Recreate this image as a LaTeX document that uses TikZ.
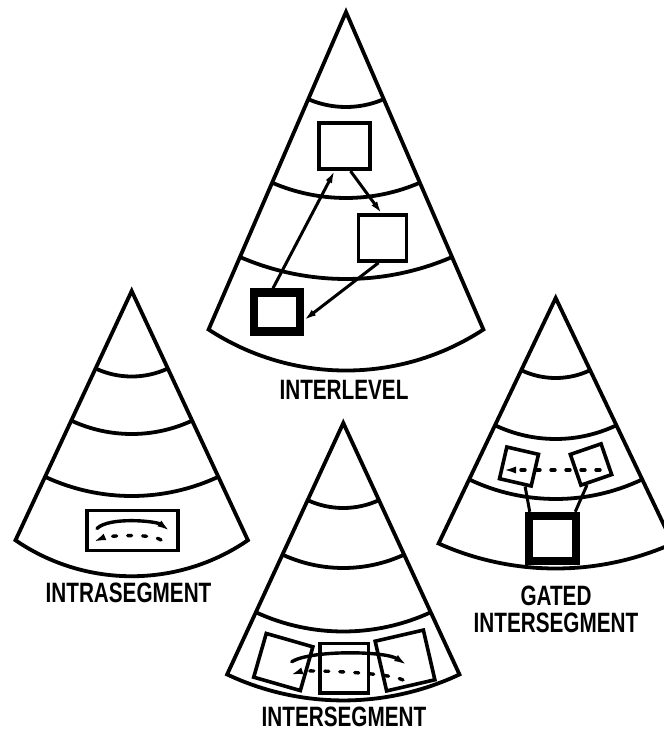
\documentclass[tikz,border=0pt]{standalone}
\usepackage{fontspec}
\newfontfamily\lblfont[FakeStretch=0.74]{Liberation Sans}
\usetikzlibrary{arrows.meta}

\tikzset{
  rim/.style={line width=3.8pt},
  seg/.style 2 args={draw, fill=white, line width=3.6pt, inner sep=0pt, minimum width=#1, minimum height=#2},
  gate/.style 2 args={seg={#1}{#2}, line width=8.5pt},
  link/.style={line width=3pt, -{Latex[length=12pt,width=7pt]}},
  msg/.style={line width=3.4pt, line cap=round, -{Latex[length=13pt,width=7pt]}},
  reply/.style={msg, dash pattern=on 4pt off 11pt},
  wire/.style={line width=3pt},
  lbl/.style={font=\lblfont\bfseries\fontsize{28}{27}\selectfont, inner sep=0pt},
  pics/cone/.style n args={4}{code={
    \pgfmathsetmacro\conew{#2*sin(#1)}
    \pgfmathsetmacro\conerb{\conew*(\conew/(2*#3))+#3/2}
    \pgfmathsetmacro\conea{asin(\conew/\conerb)}
    \draw[rim] (0,0) -- (90+#1:#2) arc[start angle=90+\conea, end angle=90-\conea, radius=\conerb] -- cycle;
    \foreach \rad in {#4}
      \draw[rim] (90+#1:\rad) arc[start angle=90+#1, end angle=90-#1, radius=\rad];
  }}
}

\begin{document}
\begin{tikzpicture}[x=1pt, y=-1pt]
  \useasboundingbox (0,0) rectangle (664,734);
  \clip (0,0) rectangle (664,734);

  \pic at (346,12) {cone={23.4}{346}{41}{95,186,267}};
  \pic at (131.7,291) {cone={25}{275}{36}{85.5,143,205}};
  \pic at (555.7,298) {cone={25.5}{272}{25}{80,141,201}};
  \pic at (343.3,423) {cone={24.8}{277}{26}{85,145,208.5}};

  \node[seg={51.5}{46.5}] (upper) at (344.5,146) {};
  \node[seg={48}{46}] (middle) at (382.5,238) {};
  \node[gate={46}{39}] (lower) at (277,312) {};
  \draw[link] ([xshift=-4pt]lower.north) -- ([xshift=-10pt]upper.south);
  \draw[link] ([xshift=6pt]upper.south) -- ([xshift=-1pt]middle.north);
  \draw[link] ([xshift=-4pt]middle.south) -- ([yshift=-8pt]lower.east);
  \node[lbl] (interlevel) at (344,389.5) {INTERLEVEL};

  \node[seg={91}{40}] (intra) at (132.5,530.5) {};
  \coordinate (i1) at (97,528.5);
  \coordinate (i2) at (170,531);
  \coordinate (i3) at (161,540);
  \coordinate (i4) at (93,542);
  \draw[msg] (i1) .. controls +(12,-12) and +(-14,-10) .. (i2);
  \draw[reply] (i3) .. controls +(-10,-7) and +(14,-6) .. (i4);
  \node[lbl] (intrasegment) at (128.5,593) {INTRASEGMENT};

  \node[seg={32.5}{32.5}, rotate=-13] (gl) at (519,466.5) {};
  \node[seg={32.5}{32.5}, rotate=19] (gr) at (591,464.5) {};
  \node[gate={47}{45}] (gt) at (552.5,538.5) {};
  \coordinate (g1) at (600,470);
  \coordinate (g2) at (503,470);
  \draw[reply] (g1) -- (g2);
  \draw[wire] (gl.-60) -- ([xshift=5pt]gt.north west);
  \draw[wire] (gr.-120) -- ([xshift=-5pt]gt.north east);
  \node[lbl, align=center] (gated) at (556,609) {GATED\\INTERSEGMENT};

  \node[seg={48.5}{45.5}, rotate=-16] (sl) at (283.3,662) {};
  \node[seg={48.5}{49.5}] (sm) at (344.2,668.3) {};
  \node[seg={49.5}{51}, rotate=13] (sr) at (405,660.5) {};
  \coordinate (s1) at (291.7,661.7);
  \coordinate (s2) at (407,665);
  \coordinate (s3) at (403,680);
  \coordinate (s4) at (290,675);
  \draw[msg] (s1) .. controls +(20,-12) and +(-22,-14) .. (s2);
  \draw[reply] (s3) .. controls +(-15,-8) and +(15,-5) .. (s4);
  \node[lbl] (intersegment) at (344,717) {INTERSEGMENT};
\end{tikzpicture}
\end{document}
